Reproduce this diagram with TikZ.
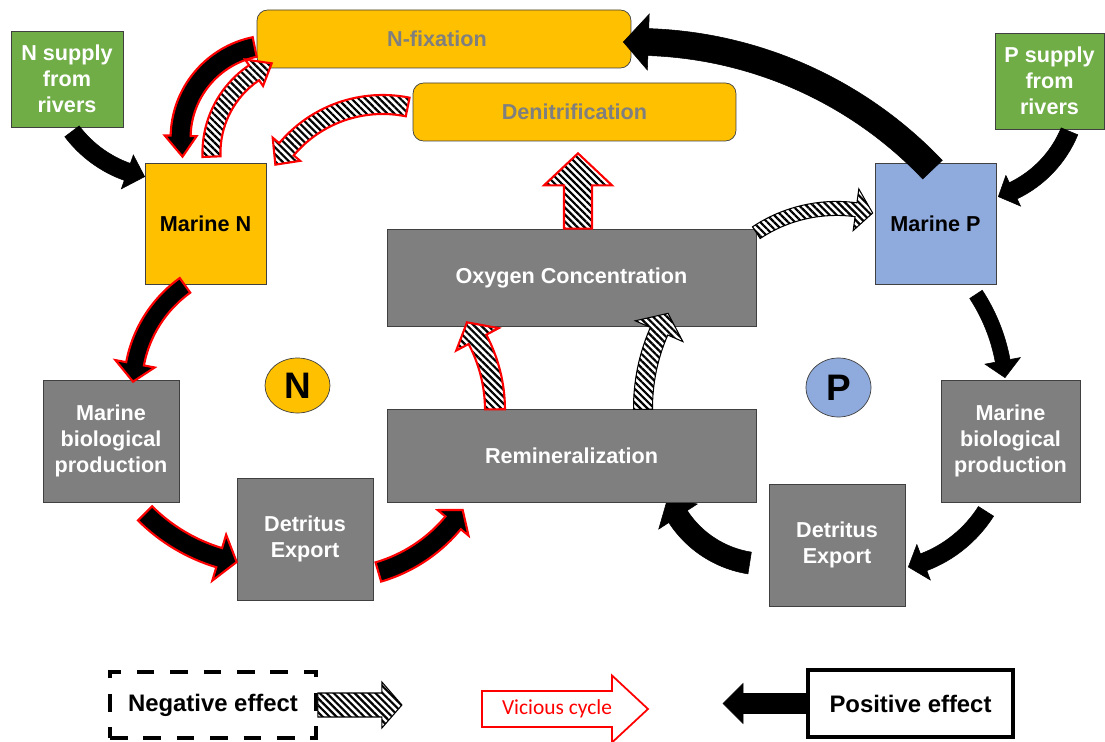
\documentclass[tikz,border=0pt]{standalone}
\usepackage{fontspec}
\setmainfont{Liberation Sans}
\newfontfamily\calibri{Carlito}
\usepackage{xcolor}
\usepackage{tikz}
\usetikzlibrary{positioning,calc,shapes.geometric,patterns.meta,backgrounds}

\definecolor{nyellow}{RGB}{255,192,0}
\definecolor{pblue}{RGB}{143,170,220}
\definecolor{rgreen}{RGB}{112,173,71}
\definecolor{boxgray}{RGB}{127,127,127}
\definecolor{edgegray}{RGB}{64,64,64}

\def\pxpt{0.569055}
\newcommand{\boxfont}{\fontsize{12.3}{14.8}\selectfont\bfseries}
\newcommand{\legfont}{\fontsize{13.6}{16}\selectfont\bfseries}

% curved block arrow: [style]{tail}{tip}{bend}{body width}{head width}{head length}
\newcommand{\bendarrow}[7][]{%
  \path #2; \pgfgetlastxy{\arAx}{\arAy}%
  \path #3; \pgfgetlastxy{\arBx}{\arBy}%
  \pgfmathsetmacro\arAx{\arAx}\pgfmathsetmacro\arAy{\arAy}%
  \pgfmathsetmacro\arBx{\arBx}\pgfmathsetmacro\arBy{\arBy}%
  \pgfmathsetmacro\arDx{\arBx-\arAx}%
  \pgfmathsetmacro\arDy{\arBy-\arAy}%
  \pgfmathsetmacro\arC{100*veclen(\arDx/100,\arDy/100)}%
  \pgfmathsetmacro\arR{\arC/(2*sin(abs(#4)/2))}%
  \pgfmathsetmacro\arD{\arR*cos((#4)/2)*sign(#4)}%
  \pgfmathsetmacro\arCx{(\arAx+\arBx)/2-\arD*(\arDy/\arC)}%
  \pgfmathsetmacro\arCy{(\arAy+\arBy)/2+\arD*(\arDx/\arC)}%
  \pgfmathsetmacro\arSa{atan2(\arAy-\arCy,\arAx-\arCx)}%
  \pgfmathsetmacro\arEa{\arSa+(#4)}%
  \pgfmathsetmacro\arBa{\arEa-sign(#4)*(#7*\pxpt/\arR)*180/pi}%
  \pgfmathsetmacro\arRo{\arR+#5*\pxpt/2}%
  \pgfmathsetmacro\arRi{\arR-#5*\pxpt/2}%
  \pgfmathsetmacro\arHo{\arR+#6*\pxpt/2}%
  \pgfmathsetmacro\arHi{\arR-#6*\pxpt/2}%
  \begin{scope}[shift={(\arCx pt,\arCy pt)}]
    \draw[#1] (\arSa:\arRo pt) arc[start angle=\arSa, end angle=\arBa, radius=\arRo pt]
      -- (\arBa:\arHo pt) -- (\arEa:\arR pt) -- (\arBa:\arHi pt) -- (\arBa:\arRi pt)
      arc[start angle=\arBa, end angle=\arSa, radius=\arRi pt] -- cycle;
  \end{scope}}

% straight block arrow: [style]{tail}{tip}{body width}{head width}{head length}
\newcommand{\flatarrow}[6][]{%
  \path #2; \pgfgetlastxy{\arAx}{\arAy}%
  \path #3; \pgfgetlastxy{\arBx}{\arBy}%
  \pgfmathsetmacro\arAx{\arAx}\pgfmathsetmacro\arAy{\arAy}%
  \pgfmathsetmacro\arBx{\arBx}\pgfmathsetmacro\arBy{\arBy}%
  \pgfmathsetmacro\arAn{atan2(\arBy-\arAy,\arBx-\arAx)}%
  \pgfmathsetmacro\arL{100*veclen((\arBx-\arAx)/100,(\arBy-\arAy)/100)}%
  \pgfmathsetmacro\arLb{\arL-#6*\pxpt}%
  \pgfmathsetmacro\arMx{\arAx+\arLb*cos(\arAn)}%
  \pgfmathsetmacro\arMy{\arAy+\arLb*sin(\arAn)}%
  \pgfmathsetmacro\arW{#4*\pxpt/2}%
  \pgfmathsetmacro\arH{#5*\pxpt/2}%
  \draw[#1] ([shift={(\arAx pt,\arAy pt)}]\arAn+90:\arW pt)
    -- ([shift={(\arMx pt,\arMy pt)}]\arAn+90:\arW pt)
    -- ([shift={(\arMx pt,\arMy pt)}]\arAn+90:\arH pt)
    -- (\arBx pt,\arBy pt)
    -- ([shift={(\arMx pt,\arMy pt)}]\arAn-90:\arH pt)
    -- ([shift={(\arMx pt,\arMy pt)}]\arAn-90:\arW pt)
    -- ([shift={(\arAx pt,\arAy pt)}]\arAn-90:\arW pt) -- cycle;}

\begin{document}
\begin{tikzpicture}[
    x=0.02cm, y=-0.02cm,
    nbox/.style={rectangle, draw=edgegray, fill=nyellow, minimum width=2.42cm, minimum height=2.42cm, font=\boxfont},
    pbox/.style={nbox, fill=pblue},
    river/.style={rectangle, draw=edgegray, fill=rgreen, text=white, align=center, font=\boxfont, minimum width=2.24cm, minimum height=1.92cm},
    proc/.style={rectangle, draw=edgegray, fill=boxgray, text=white, align=center, font=\boxfont, minimum width=2.72cm, minimum height=2.44cm},
    wide/.style={proc, minimum width=7.38cm, minimum height=1.94cm},
    flux/.style={rectangle, rounded corners=6pt, draw=edgegray, fill=nyellow, text=boxgray, font=\boxfont, minimum height=1.16cm},
    tag/.style={ellipse, draw=edgegray, fill=nyellow, inner sep=0pt, minimum width=1.3cm, minimum height=1.1cm, font=\fontsize{21}{21}\selectfont\bfseries},
    legend/.style={rectangle, font=\legfont, minimum width=4.12cm, minimum height=1.33cm},
    posarrow/.style={fill=black, draw=black, line width=0.3pt},
    viciouspos/.style={fill=black, draw=red, line width=1.2pt},
    negarrow/.style={draw=black, line width=0.6pt, preaction={fill=white}, pattern={Lines[angle=-45,distance=2.8pt,line width=1.25pt]}},
    viciousneg/.style={negarrow, draw=red, line width=1.2pt},
    vicarrow/.style={fill=white, draw=red, line width=1pt}
]

\useasboundingbox (0,0) rectangle (1105,742);

% Nitrogen side
\node[river] (nsup) at (67,79) {N supply\\from\\rivers};
\node[nbox] (marineN) at (205.5,223.5) {Marine N};
\node[proc] (mbpN) at (111,441) {Marine\\biological\\production};
\node[proc] (detN) at (305,539) {Detritus\\Export};
\node[tag] (tagN) at (297.5,385.5) {N};

% Phosphorus side
\node[river, minimum width=2.18cm] (psup) at (1049.5,81) {P supply\\from\\rivers};
\node[pbox] (marineP) at (935.5,223.5) {Marine P};
\node[proc, minimum width=2.78cm] (mbpP) at (1010.5,441) {Marine\\biological\\production};
\node[proc] (detP) at (837,545) {Detritus\\Export};
\node[tag, fill=pblue, minimum height=1.18cm] (tagP) at (838.5,387.5) {P};

% Middle
\node[flux, minimum width=7.48cm] (nfix) at (444,39) {N-fixation\hspace*{8pt}};
\node[flux, minimum width=6.46cm] (denit) at (574.5,112) {Denitrification};
\node[wide] (oxy) at (571.5,277.5) {Oxygen Concentration};
\node[wide, minimum height=1.86cm, below=1.66cm of oxy] (remin) {Remineralization};

% Legend
\node[legend, draw, line width=2.2pt, dash pattern=on 10pt off 9pt] (neg) at (213,705) {Negative effect};
\node[legend, draw, line width=2.2pt, minimum width=4.1cm] (pos) at (910.5,703.5) {Positive effect};
\node[text=red, font=\calibri\fontsize{12.2}{14}\selectfont] (vicious) at (557,709) {Vicious cycle};

\begin{scope}[on background layer]
  \fill[white] (0,0) rectangle (1105,742);
  \bendarrow[posarrow]{($(detP.west)+(-19,18)$)}{($(remin.south)+(96.5,-6)$)}{-60}{22}{46}{22}
  \flatarrow[vicarrow]{($(vicious.center)+(-75,0)$)}{($(vicious.center)+(91,0)$)}{36}{67}{36}
\end{scope}

% Supply and cycle arrows
\bendarrow[posarrow]{($(nsup.south)+(5,4)$)}{($(marineN.north west)+(0,14)$)}{42}{18}{36}{18}
\bendarrow[posarrow]{($(psup.south)+(20,2)$)}{($(marineP.north east)+(2,34)$)}{-50}{18}{34}{16}
\bendarrow[posarrow]{($(marineP.north)+(-3,7)$)}{($(nfix.east)+(-8,3)$)}{48}{27}{56}{25}
\bendarrow[posarrow]{($(marineP.south)+(40.5,10)$)}{($(mbpP.north)+(-5.5,-2)$)}{-28}{15}{36}{17}
\bendarrow[posarrow]{($(mbpP.south)+(-24.5,9)$)}{($(detP.east)+(3,22)$)}{-44}{18}{38}{16}

% Vicious cycle on the N side
\bendarrow[viciouspos]{($(nfix.west)+(-2,8)$)}{($(marineN.north)+(-23,-6)$)}{90}{20}{32}{21}
\bendarrow[viciousneg]{($(marineN.north)+(6,-6)$)}{($(nfix.south west)+(15,-5)$)}{-70}{18}{32}{20}
\bendarrow[viciousneg]{($(denit.west)+(-5,-5)$)}{($(marineN.north east)+(9,2)$)}{70}{19}{36}{19}
\bendarrow[viciouspos]{($(marineN.south)+(-20.5,1)$)}{($(mbpN.north)+(22,2)$)}{52}{18}{40}{18}
\bendarrow[viciouspos]{($(mbpN.south)+(34,11)$)}{($(detN.west)+(0,23)$)}{34}{20}{48}{18}
\bendarrow[viciouspos]{($(detN.east)+(5,33)$)}{($(remin.south west)+(76,7)$)}{40}{20}{40}{16}

% Oxygen
\flatarrow[viciousneg]{($(oxy.north)+(6.5,0)$)}{($(denit.south)+(3.5,12)$)}{28}{68}{32}
\bendarrow[viciousneg]{($(remin.north)+(-76.5,0)$)}{($(oxy.south)+(-104.5,-4)$)}{35}{20}{48}{20}
\bendarrow[negarrow]{($(remin.north)+(71.5,0)$)}{($(oxy.south)+(96.5,-13)$)}{-30}{19}{52}{20}
\bendarrow[negarrow]{($(oxy.north east)+(0,4)$)}{($(marineP.west)+(-2,-10.5)$)}{-48}{14}{42}{17}

% Legend arrows
\flatarrow[negarrow]{(neg.east)}{($(neg.east)+(84,0)$)}{24}{46}{20}
\flatarrow[posarrow]{(pos.west)}{($(pos.west)+(-83,0)$)}{20}{40}{20}

\end{tikzpicture}
\end{document}
